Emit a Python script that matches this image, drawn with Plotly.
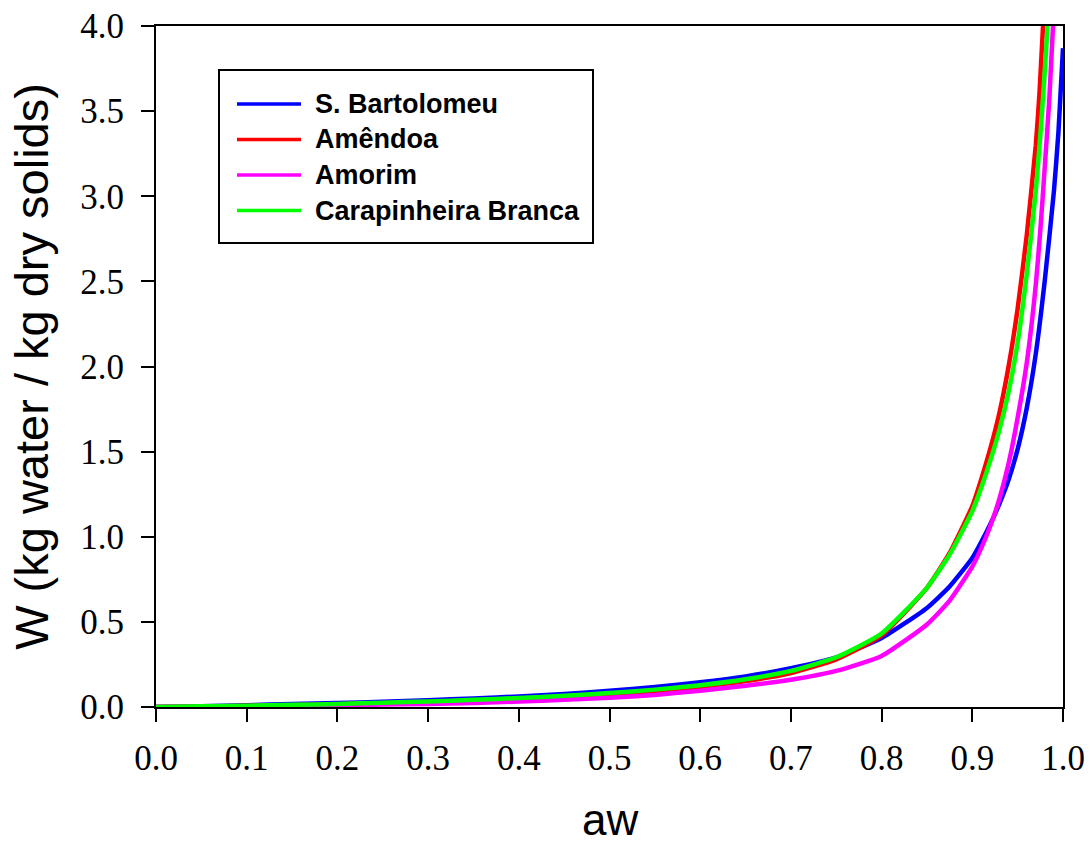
import plotly.graph_objects as go

# ---- data ----
aw_bart = [0.0, 0.05, 0.1, 0.15, 0.2, 0.25, 0.3, 0.35, 0.4, 0.45, 0.5, 0.55, 0.6, 0.65, 0.7, 0.75,
           0.8, 0.85, 0.875, 0.9, 0.91, 0.92, 0.93, 0.94, 0.95, 0.96, 0.97, 0.98, 0.99, 0.995, 1.0]
w_bart = [0.0, 0.005, 0.011, 0.017, 0.023, 0.031, 0.040, 0.050, 0.062, 0.077, 0.095, 0.117, 0.145, 0.180,
          0.228, 0.292, 0.405, 0.582, 0.708, 0.875, 0.970, 1.075, 1.195, 1.335, 1.515, 1.755, 2.075, 2.51, 3.03, 3.38, 3.87]

aw_amen = [0.0, 0.05, 0.1, 0.15, 0.2, 0.25, 0.3, 0.35, 0.4, 0.45, 0.5, 0.55, 0.6, 0.65, 0.7, 0.75,
           0.8, 0.85, 0.875, 0.9, 0.91, 0.92, 0.93, 0.94, 0.95, 0.96, 0.97, 0.974, 0.978]
w_amen = [0.0, 0.003, 0.007, 0.011, 0.016, 0.022, 0.029, 0.037, 0.047, 0.059, 0.074, 0.093, 0.118, 0.152,
          0.200, 0.280, 0.420, 0.700, 0.905, 1.18, 1.34, 1.52, 1.73, 2.00, 2.34, 2.77, 3.30, 3.60, 4.0]

aw_amor = [0.0, 0.05, 0.1, 0.15, 0.2, 0.25, 0.3, 0.35, 0.4, 0.45, 0.5, 0.55, 0.6, 0.65, 0.7, 0.75,
           0.8, 0.85, 0.875, 0.9, 0.91, 0.92, 0.93, 0.94, 0.95, 0.96, 0.97, 0.975, 0.98, 0.985, 0.989]
w_amor = [0.0, 0.002, 0.004, 0.007, 0.010, 0.014, 0.018, 0.024, 0.032, 0.042, 0.054, 0.071, 0.096, 0.125,
          0.160, 0.212, 0.300, 0.485, 0.625, 0.825, 0.935, 1.065, 1.225, 1.43, 1.70, 2.02, 2.48, 2.80, 3.18, 3.58, 4.0]

aw_cara = [0.0, 0.05, 0.1, 0.15, 0.2, 0.25, 0.3, 0.35, 0.4, 0.45, 0.5, 0.55, 0.6, 0.65, 0.7, 0.75,
           0.8, 0.85, 0.875, 0.9, 0.91, 0.92, 0.93, 0.94, 0.95, 0.96, 0.97, 0.975, 0.979, 0.983]
w_cara = [0.0, 0.004, 0.008, 0.013, 0.018, 0.025, 0.033, 0.042, 0.053, 0.066, 0.082, 0.102, 0.128, 0.163,
          0.212, 0.292, 0.432, 0.700, 0.895, 1.15, 1.29, 1.45, 1.63, 1.85, 2.14, 2.54, 3.03, 3.36, 3.66, 4.0]

names = ["S. Bartolomeu", "Amêndoa", "Amorim", "Carapinheira Branca"]
colors = ["#0000FF", "#FF0000", "#FF00FF", "#00FF00"]

x_ticks = [0.0, 0.1, 0.2, 0.3, 0.4, 0.5, 0.6, 0.7, 0.8, 0.9, 1.0]
y_ticks = [0.0, 0.5, 1.0, 1.5, 2.0, 2.5, 3.0, 3.5, 4.0]

series = [(aw_bart, w_bart), (aw_amen, w_amen), (aw_amor, w_amor), (aw_cara, w_cara)]

# figure geometry (pixels)
W_PX, H_PX = 1090, 848
ML, MR, MT, MB = 156, 27, 26, 141
PW, PH = W_PX - ML - MR, H_PX - MT - MB


def px_to_paper(px, py):
    return (px - ML) / PW, (H_PX - MB - py) / PH


fig = go.Figure()
for (xs, ys), nm, c in zip(series, names, colors):
    fig.add_trace(go.Scatter(x=xs, y=ys, mode="lines", name=nm, showlegend=False,
                             line=dict(color=c, width=4.5, shape="spline", smoothing=0.5)))

# legend box drawn in the style of the reference
bx0, by0 = px_to_paper(219, 243)
bx1, by1 = px_to_paper(593, 70)
fig.add_shape(type="rect", xref="paper", yref="paper", x0=bx0, y0=by0, x1=bx1, y1=by1,
              line=dict(color="black", width=2), fillcolor="white", layer="above")
row_y = [104, 139.5, 175, 210.5]
for nm, c, ry in zip(names, colors, row_y):
    lx0, ly = px_to_paper(237, ry)
    lx1, _ = px_to_paper(301, ry)
    fig.add_shape(type="line", xref="paper", yref="paper", x0=lx0, y0=ly, x1=lx1, y1=ly,
                  line=dict(color=c, width=3.5), layer="above")
    tx, _ = px_to_paper(313, ry)
    fig.add_annotation(xref="paper", yref="paper", x=tx, y=ly, xanchor="left", yanchor="middle",
                       text=f"<b>{nm}</b>", showarrow=False,
                       font=dict(family="Liberation Sans, Arial, sans-serif", size=27, color="black"))

# x-axis title (box bottom kept inside the figure)
_, ty = px_to_paper(0, 846)
fig.add_annotation(xref="paper", yref="paper", x=0.5, y=ty, xanchor="center", yanchor="bottom",
                   text="aw", showarrow=False,
                   font=dict(family="Liberation Sans, Arial, sans-serif", size=44, color="black"))

axis_common = dict(showgrid=False, zeroline=False, showline=True, linecolor="black", linewidth=2,
                   mirror=True, ticks="outside", ticklen=13, tickwidth=2, tickcolor="black",
                   automargin=False,
                   tickfont=dict(family="Liberation Serif, Times New Roman, serif", size=35, color="black"))

fig.update_layout(
    width=W_PX, height=H_PX,
    margin=dict(l=ML, r=MR, t=MT, b=MB),
    paper_bgcolor="white", plot_bgcolor="white",
    showlegend=False,
    xaxis=dict(range=[0, 1.0], tickvals=x_ticks, ticktext=[f"{v:.1f}" for v in x_ticks],
               ticklabelstandoff=6,
               **axis_common),
    yaxis=dict(range=[0, 4.0], tickvals=y_ticks, ticktext=[f"{v:.1f}" for v in y_ticks],
               ticklabelstandoff=10,
               title=dict(text="W (kg water / kg dry solids)",
                          font=dict(family="Liberation Sans, Arial, sans-serif", size=47, color="black"),
                          standoff=17),
               **axis_common),
)

fig.write_html("out.html")
